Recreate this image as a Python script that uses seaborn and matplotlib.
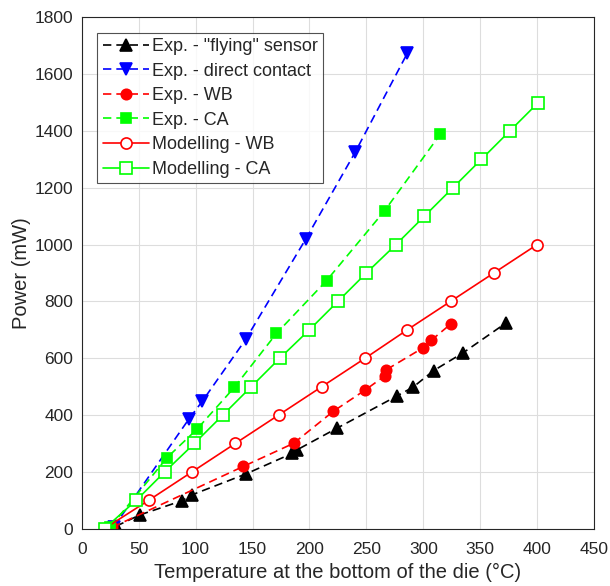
import numpy as np
import pandas as pd
import matplotlib
matplotlib.use('Agg')
import matplotlib.pyplot as plt
import seaborn as sns

# data
fly_x = [30, 51, 88, 97, 144, 185, 189, 224, 277, 291, 309, 335, 373]
fly_y = [8, 48, 98, 119, 192, 265, 277, 353, 467, 498, 556, 619, 725]

dc_x = [28, 94, 106, 144, 197, 240, 286]
dc_y = [5, 385, 449, 666, 1021, 1324, 1674]

wb_x = [27, 142, 186, 221, 249, 266, 267, 300, 307, 324]
wb_y = [5, 219, 300, 413, 488, 537, 558, 637, 663, 720]

ca_x = [25, 75, 101, 134, 171, 215, 266, 315]
ca_y = [5, 250, 349, 497, 687, 873, 1119, 1389]

mwb_x = [20, 59, 97, 135, 173, 211, 249, 286, 324, 362, 400]
mwb_y = [0, 100, 200, 300, 400, 500, 600, 700, 800, 900, 1000]

mca_x = [20, 48, 73, 99, 124, 149, 174, 200, 225, 250, 276, 301, 326, 351, 376, 401]
mca_y = [0, 100, 200, 300, 400, 500, 600, 700, 800, 900, 1000, 1100, 1200, 1300, 1400, 1500]

sns.set_style('white')
plt.rcParams['font.family'] = ['Liberation Sans', 'DejaVu Sans']

fig = plt.figure(figsize=(6.1, 5.86), dpi=100)
ax = fig.add_axes([0.134, 0.098, 0.840, 0.8725])

series = [
    (fly_x, fly_y, 'Exp. - "flying" sensor', 'black', '^', (0, (5, 3)), 'black', 8),
    (dc_x, dc_y, 'Exp. - direct contact', '#0000ff', 'v', (0, (5, 3)), '#0000ff', 8),
    (wb_x, wb_y, 'Exp. - WB', '#ff0000', 'o', (0, (5, 3)), '#ff0000', 7.5),
    (ca_x, ca_y, 'Exp. - CA', '#00ff00', 's', (0, (5, 3)), '#00ff00', 7),
    (mwb_x, mwb_y, 'Modelling - WB', '#ff0000', 'o', '-', 'white', 8),
    (mca_x, mca_y, 'Modelling - CA', '#00ff00', 's', '-', 'white', 8),
]

for x, y, lab, col, mk, ls, fc, ms in series:
    df = pd.DataFrame({'x': x, 'y': y})
    sns.lineplot(data=df, x='x', y='y', ax=ax, color=col, marker=mk,
                 linestyle=ls, markerfacecolor=fc, markeredgecolor=col,
                 markersize=ms, markeredgewidth=1.2, linewidth=1.2,
                 label=lab, estimator=None, sort=False)

ax.set_xlim(0, 450)
ax.set_ylim(0, 1800)
ax.set_xticks(np.arange(0, 451, 50))
ax.set_yticks(np.arange(0, 1801, 200))
ax.grid(True, color='#dddddd', linewidth=0.8)
ax.tick_params(direction='in', labelsize=12.5, length=4, color='#262626',
               labelcolor='#262626')
ax.tick_params(axis='x', pad=10)
ax.tick_params(axis='y', pad=6)
for s in ax.spines.values():
    s.set_color('#262626')
    s.set_linewidth(0.8)
ax.set_xlabel('Temperature at the bottom of the die (°C)', fontsize=14.5,
              color='#262626', labelpad=4)
ax.set_ylabel('Power (mW)', fontsize=14.5, color='#262626', labelpad=2.5)

leg = ax.legend(loc='upper left', bbox_to_anchor=(0.03, 0.97), fontsize=13,
                frameon=True, fancybox=False, handlelength=2.6,
                borderpad=0.3, labelspacing=0.42, handletextpad=0.15,
                borderaxespad=0)
leg.get_frame().set_edgecolor('#262626')
leg.get_frame().set_linewidth(0.8)

fig.savefig('out.png', dpi=100)
